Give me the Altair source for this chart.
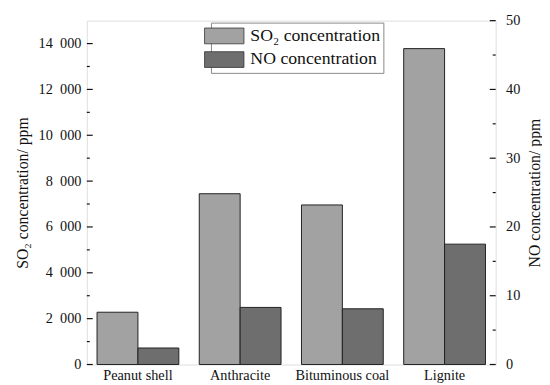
import altair as alt
import pandas as pd

categories = ["Peanut shell", "Anthracite", "Bituminous coal", "Lignite"]
so2_values = [2280, 7450, 6960, 13780]
no_values = [2.4, 8.3, 8.1, 17.5]
series_names = ["SO₂ concentration", "NO concentration"]
left_major = [0, 2000, 4000, 6000, 8000, 10000, 12000, 14000]
left_minor = [1000, 3000, 5000, 7000, 9000, 11000, 13000]
right_major = [0, 10, 20, 30, 40, 50]
right_minor = [5, 15, 25, 35, 45]

FONT = "Liberation Serif"

so2_df = pd.DataFrame({"category": categories, "series": series_names[0], "value": so2_values})
no_df = pd.DataFrame({"category": categories, "series": series_names[1], "value": no_values})

xenc = alt.X("category:N", sort=categories, title=None,
             scale=alt.Scale(paddingInner=0.2, paddingOuter=0.1),
             axis=alt.Axis(labelAngle=0, ticks=False, domain=False, labelPadding=4,
                           labelFont=FONT, labelFontSize=14.5, labelColor="#111"))
xoff = alt.XOffset("series:N", scale=alt.Scale(domain=series_names, paddingInner=0, paddingOuter=0))
fill = alt.Fill("series:N", scale=alt.Scale(domain=series_names, range=["#a2a2a2", "#6e6e6e"]),
                legend=alt.Legend(title=None, orient="none", legendX=126, legendY=2,
                                  symbolType="M-2,-0.8H2V0.8H-2Z", symbolSize=400,
                                  symbolStrokeColor="#333", symbolStrokeWidth=0.8,
                                  labelFont=FONT, labelFontSize=18, labelColor="#111", labelLimit=300,
                                  strokeColor="#888", fillColor="white", padding=3,
                                  rowPadding=3, labelOffset=16, offset=0))

left_scale = alt.Scale(domain=[0, 15000], nice=False)
right_scale = alt.Scale(domain=[0, 50], nice=False)

so2_bars = alt.Chart(so2_df).mark_bar(stroke="#222", strokeWidth=1).encode(
    x=xenc, xOffset=xoff, fill=fill,
    y=alt.Y("value:Q", scale=left_scale, title="SO₂ concentration/ ppm",
            axis=alt.Axis(values=left_major, ticks=False, domain=False, grid=False,
                          labelExpr="replace(format(datum.value, ','), ',', '\u2002')",
                          labelFont=FONT, labelFontSize=14.5, labelPadding=6, labelColor="#111",
                          titleFont=FONT, titleFontSize=16, titleFontWeight="normal", titlePadding=8,
                          titleColor="#111")),
)
left_major_ticks = alt.Chart(pd.DataFrame({"t": left_major})).mark_rule(color="#111", strokeWidth=1.2).encode(
    y=alt.Y("t:Q", scale=left_scale), x=alt.value(0), x2=alt.value(6))
left_minor_ticks = alt.Chart(pd.DataFrame({"t": left_minor})).mark_rule(color="#111", strokeWidth=1.2).encode(
    y=alt.Y("t:Q", scale=left_scale), x=alt.value(0), x2=alt.value(3))

no_bars = alt.Chart(no_df).mark_bar(stroke="#222", strokeWidth=1).encode(
    x=xenc, xOffset=xoff, fill=fill,
    y=alt.Y("value:Q", scale=right_scale, title="NO concentration/ ppm",
            axis=alt.Axis(values=right_major, orient="right", ticks=False, domain=False, grid=False,
                          labelFont=FONT, labelFontSize=14.5, labelPadding=10, labelColor="#111",
                          titleFont=FONT, titleFontSize=16, titleFontWeight="normal", titlePadding=23,
                          titleAngle=270, titleBaseline="bottom", titleColor="#111")),
)
right_major_ticks = alt.Chart(pd.DataFrame({"t": right_major})).mark_rule(color="#111", strokeWidth=1.2).encode(
    y=alt.Y("t:Q", scale=right_scale), x=alt.value(415), x2=alt.value(409))
right_minor_ticks = alt.Chart(pd.DataFrame({"t": right_minor})).mark_rule(color="#111", strokeWidth=1.2).encode(
    y=alt.Y("t:Q", scale=right_scale), x=alt.value(415), x2=alt.value(412))

left_layer = alt.layer(so2_bars, left_major_ticks, left_minor_ticks)
right_layer = alt.layer(no_bars, right_major_ticks, right_minor_ticks)

chart = alt.layer(left_layer, right_layer).resolve_scale(y="independent").properties(
    width=415, height=349,
    autosize=alt.AutoSizeParams(type="none"),
    padding={"left": 80, "top": 10, "right": 47, "bottom": 20},
    background="white",
).configure_view(stroke="#111", strokeWidth=1.5).configure(
    font=FONT
)

chart.save("out.html", embed_options={"renderer": "svg", "actions": False})
